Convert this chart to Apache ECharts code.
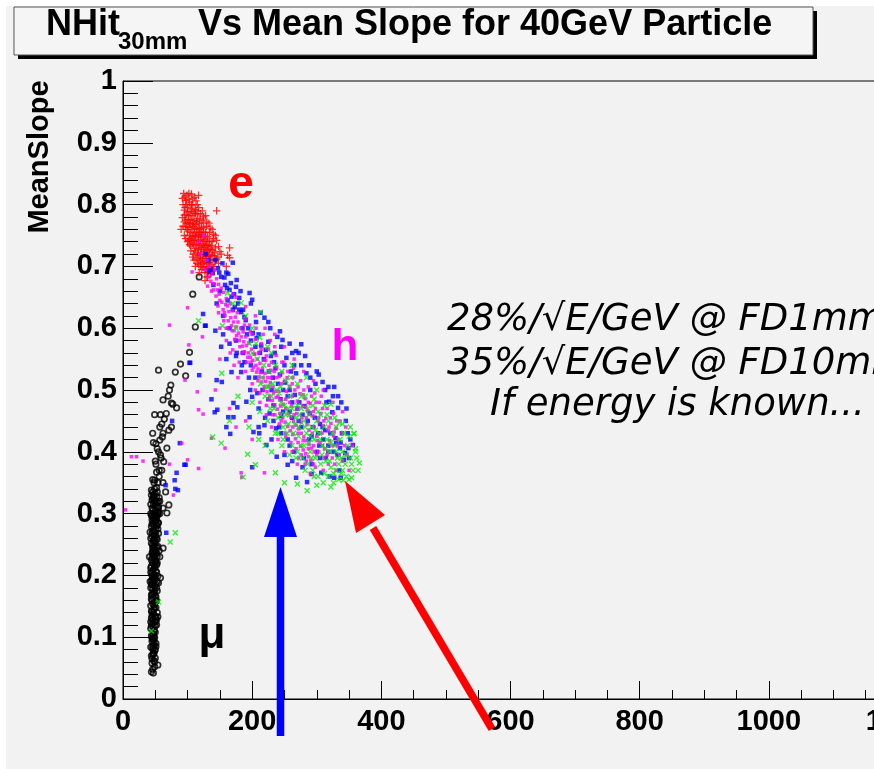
<!DOCTYPE html>
<html><head><meta charset="utf-8">
<script src="https://cdn.jsdelivr.net/npm/echarts@6/dist/echarts.min.js"></script>
<style>html,body{margin:0;padding:0;background:#fff}#c{width:874px;height:769px}</style>
</head><body><div id="c"></div>
<script>
// ---- data (NHit30mm, MeanSlope) ----
const muonData = [
[47,0.042],[46,0.048],[49,0.052],[45,0.058],[48,0.062],[50,0.066],[44,0.07],[47,0.074],[49,0.078],[46,0.081],[43,0.084],[48,0.087],[51,0.09],[45,0.093],[47,0.096],[49,0.099],[44,0.102],[46,0.105],[50,0.108],[48,0.111],[43,0.114],[47,0.117],[52,0.12],[45,0.122],[49,0.125],[46,0.128],[44,0.131],[50,0.134],[47,0.137],[53,0.14],[45,0.142],[48,0.145],[51,0.148],[43,0.151],[46,0.154],[49,0.156],[52,0.159],[44,0.162],[47,0.164],[50,0.167],[45,0.17],[48,0.172],[53,0.175],[46,0.178],[43,0.18],[49,0.183],[51,0.186],[47,0.188],[44,0.191],[50,0.194],[46,0.196],[54,0.199],[48,0.201],[45,0.204],[51,0.207],[47,0.209],[43,0.212],[49,0.215],[52,0.217],[46,0.22],[50,0.223],[44,0.225],[48,0.228],[53,0.231],[47,0.233],[45,0.236],[51,0.239],[49,0.241],[46,0.244],[54,0.247],[48,0.249],[44,0.252],[50,0.255],[47,0.257],[52,0.26],[45,0.263],[49,0.265],[55,0.268],[46,0.271],[48,0.273],[51,0.276],[44,0.279],[53,0.281],[47,0.284],[50,0.287],[45,0.29],[49,0.292],[52,0.295],[46,0.298],[48,0.301],[54,0.303],[50,0.306],[45,0.309],[51,0.312],[47,0.315],[53,0.318],[49,0.321],[46,0.324],[52,0.327],[48,0.33],
[49,0.06],[46,0.072],[51,0.085],[45,0.098],[48,0.11],[52,0.128],[44,0.142],[50,0.158],[47,0.17],[53,0.19],[45,0.2],[49,0.218],[52,0.236],[46,0.25],[50,0.262],[54,0.275],[47,0.288],[51,0.3],[55,0.31],[49,0.318],[45,0.322],[56,0.326],[50,0.332],
[48,0.092],[50,0.118],[45,0.135],[49,0.149],[51,0.165],[44,0.185],[48,0.195],[51,0.222],[47,0.245],[53,0.258],[49,0.27],[45,0.283],[52,0.29],[48,0.296],[51,0.321],[47,0.327],[53,0.335],[44,0.297],[55,0.285],[50,0.248],
[46,0.085],[48,0.1],[44,0.118],[50,0.125],[47,0.14],[45,0.16],[49,0.175],[46,0.192],[52,0.205],[44,0.215],[49,0.23],[46,0.238],[53,0.245],[48,0.258],[45,0.268],[51,0.282],[47,0.293],[54,0.298],[50,0.315],[46,0.335],[52,0.342],[48,0.35],[56,0.36],[51,0.38],[59,0.39],[53,0.405],[47,0.415],[60,0.445],[67,0.462],[70,0.49],[72,0.5],[58,0.46],[54,0.055],[42,0.19],[42,0.27],[57,0.3],[56,0.24],[41,0.23],[43,0.3],[57,0.32],
[45,0.065],[50,0.08],[47,0.105],[43,0.125],[51,0.132],[48,0.152],[44,0.168],[52,0.18],[46,0.185],[50,0.2],[43,0.205],[48,0.212],[53,0.22],[45,0.228],[50,0.232],[47,0.24],[43,0.26],[51,0.266],[48,0.278],[54,0.285],[46,0.305],[50,0.298],[43,0.315],[53,0.31],[48,0.325],[55,0.32],[44,0.33],[49,0.34],[54,0.35],[46,0.355],
[46,0.43],[62,0.43],[71,0.435],[75,0.44],[51,0.413],[57,0.419],[68,0.406],[55,0.4],[63,0.384],[52,0.367],[60,0.37],[49,0.354],[62,0.35],[66,0.335],[44,0.338],[71,0.314],[62,0.309],[55,0.301],[68,0.301],[62,0.244],[57,0.23],[58,0.196],[55,0.188],[54,0.133],[48,0.074],[44,0.044],
[118,0.683],[108,0.655],[112,0.602],[103,0.561],[97,0.523],[89,0.542],[81,0.529],[74,0.508],[55,0.532],[75,0.479],[83,0.471],[49,0.46],[64,0.453],[61,0.424],[62,0.484],[77,0.477],[57,0.44],[58,0.395],[50,0.385],[56,0.37]
];
const electronData = [
[94,0.818],[99,0.815],[106,0.817],[111,0.812],[97,0.807],[103,0.804],[93,0.8],[108,0.799],[100,0.796],[95,0.791],[104,0.789],[112,0.792],[98,0.784],[92,0.779],[107,0.782],[116,0.785],[101,0.776],[110,0.774],[95,0.772],[119,0.777],[104,0.768],[113,0.768],[97,0.764],[122,0.77],[107,0.76],[116,0.762],[100,0.757],[125,0.763],[110,0.754],[119,0.755],[103,0.75],[128,0.755],[113,0.748],[122,0.747],[106,0.743],[131,0.748],[116,0.741],[125,0.74],[109,0.736],[134,0.741],[119,0.734],[128,0.733],[112,0.729],[137,0.733],[122,0.727],[131,0.726],[115,0.722],[139,0.725],[125,0.72],[134,0.719],[118,0.715],[141,0.717],[128,0.713],[136,0.711],[121,0.707],[143,0.71],[131,0.705],[138,0.703],[124,0.699],[134,0.697],[140,0.695],[127,0.69],[136,0.688],[130,0.683],
[96,0.795],[102,0.782],[105,0.776],[108,0.77],[111,0.762],[114,0.756],[117,0.75],[120,0.743],[123,0.737],[126,0.73],[129,0.722],[132,0.716],[135,0.71],[112,0.785],[115,0.777],[118,0.77],[121,0.762],[124,0.756],[127,0.749],[130,0.741],[133,0.734],[136,0.727],[99,0.77],[102,0.763],[105,0.755],[108,0.748],[111,0.742],[114,0.735],[117,0.728],[120,0.72],[123,0.713],[126,0.707],[129,0.699],[132,0.692],[100,0.788],[106,0.793],[113,0.79],[117,0.795],
[98,0.8],[102,0.808],[95,0.783],[110,0.786],[103,0.77],[114,0.773],[99,0.76],[109,0.765],[118,0.76],[104,0.745],[112,0.75],[121,0.752],[108,0.738],[117,0.742],[127,0.744],[111,0.725],[121,0.731],[130,0.735],[116,0.718],[125,0.724],[133,0.728],[120,0.71],[129,0.716],[138,0.718],[124,0.704],[133,0.706],[141,0.7],[128,0.695],[137,0.693],[131,0.69],[97,0.775],[93,0.765],[101,0.742],[105,0.733],[109,0.72],[113,0.712],[117,0.703],[122,0.695],[106,0.8],[115,0.8],[120,0.785],[124,0.775],[129,0.765],[134,0.755],[138,0.74],[142,0.722],[145,0.712],[96,0.812],[102,0.818],[113,0.806],[108,0.81],
[100,0.74],[95,0.75],[105,0.725],[110,0.71],[125,0.78],[130,0.772],[135,0.762],[140,0.752],[145,0.742],[148,0.732],[150,0.724],[115,0.705],[120,0.7],[97,0.745],[103,0.735],[108,0.715],[112,0.7],[123,0.79],[128,0.782],[133,0.77],[138,0.76],[143,0.75],[147,0.715],
[117,0.815],[145,0.79],[165,0.73],[162,0.718],[165,0.714],[131,0.683],[148,0.705],[152,0.72],[127,0.677],[118,0.69],[90,0.76],[92,0.81],[140,0.745],[143,0.73],[160,0.7]
];
const blueData = [
[136,0.696],[139,0.689],[154,0.705],[170,0.706],[152,0.683],[165,0.662],[175,0.667],[168,0.651],[180,0.649],[196,0.657],[200,0.646],[124,0.623],[128,0.604],[143,0.596],[118,0.524],[103,0.544],[152,0.57],[160,0.55],[168,0.529],[183,0.529],[145,0.516],[153,0.513],[137,0.485],[146,0.468],[142,0.464],[163,0.456],[160,0.44],[166,0.429],[171,0.456],[177,0.472],[196,0.456],[202,0.432],[211,0.43],[200,0.375],[225,0.578],[245,0.57],[225,0.61],[219,0.617],[276,0.574],[282,0.555],[268,0.563],[265,0.54],[284,0.527],[298,0.51],[309,0.513],[327,0.505],[319,0.481],[333,0.471],[324,0.464],[309,0.44],[339,0.43],[348,0.43],[330,0.414],[336,0.406],[349,0.406],[356,0.411],[342,0.387],[337,0.358],[327,0.358],[307,0.366],[292,0.364],[285,0.351],[268,0.358],[255,0.379],[238,0.392],[222,0.411],[210,0.44],[219,0.443],[237,0.438],[227,0.462],[245,0.458],[200,0.489],[208,0.495],[191,0.481],[171,0.479],[268,0.527],[253,0.552],[234,0.545],[239,0.586],[247,0.581],[206,0.61],[190,0.613],[183,0.626],[173,0.634],[176,0.678],[163,0.688],[147,0.697],[88,0.414],[97,0.379],[83,0.366],[80,0.354],[76,0.45],[66,0.346],[85,0.338],[95,0.379],[81,0.34],[67,0.269],[134,0.691],[127,0.604],[104,0.544],
[150,0.66],[158,0.67],[162,0.645],[170,0.63],[178,0.64],[185,0.6],[192,0.59],[198,0.58],[205,0.57],[212,0.56],[218,0.55],[226,0.53],[232,0.52],[240,0.51],[248,0.5],[255,0.49],[262,0.48],[270,0.47],[278,0.46],[286,0.45],[294,0.44],[302,0.43],[310,0.42],[318,0.41],[326,0.4],[230,0.5],[244,0.485],[258,0.465],[272,0.45],[288,0.42],[300,0.4],[314,0.39],[215,0.53],[198,0.54],[186,0.56],[175,0.58],[165,0.6],[155,0.62],[145,0.64],[140,0.67],[132,0.71],[128,0.72],[160,0.69],[186,0.63],[210,0.59],[235,0.56],[260,0.53],[290,0.5],[315,0.48],[345,0.45],[350,0.39],[335,0.37],[320,0.36],[255,0.42],[242,0.44],[280,0.39],[265,0.4],
[143,0.71],[149,0.69],[157,0.682],[161,0.665],[167,0.673],[172,0.655],[180,0.63],[188,0.618],[194,0.6],[201,0.592],[207,0.584],[214,0.572],[221,0.565],[229,0.555],[236,0.535],[243,0.525],[251,0.512],[258,0.5],[266,0.492],[273,0.48],[281,0.474],[289,0.462],[297,0.455],[305,0.445],[313,0.435],[321,0.43],[329,0.422],[337,0.415],[344,0.398],[352,0.42],[216,0.5],[225,0.485],[233,0.475],[248,0.465],[262,0.455],[276,0.44],[292,0.425],[304,0.41],[318,0.4],[332,0.395],[195,0.52],[184,0.54],[175,0.555],[205,0.52],[250,0.54],[262,0.56],[276,0.54],[290,0.52],[300,0.53],[313,0.5],[325,0.49],[338,0.48],[305,0.39],[292,0.38],[278,0.375],[262,0.385],[250,0.395],[230,0.42],
[182,0.66],[198,0.64],[213,0.625],[228,0.6],[243,0.595],[258,0.575],[272,0.56],[288,0.54],[303,0.525],[318,0.505],[333,0.49],[346,0.47],[155,0.59],[165,0.575],[176,0.56],[188,0.545],[197,0.5],[210,0.47],[220,0.455],[233,0.45],[245,0.43],[258,0.41]
];
const magentaData = [
[130,0.71],[134,0.70],[127,0.695],[138,0.688],[142,0.694],[136,0.676],[145,0.68],[131,0.668],[148,0.671],[140,0.662],[152,0.665],[144,0.652],[156,0.658],[150,0.645],[160,0.648],[147,0.636],[162,0.636],[155,0.63],[166,0.64],[158,0.62],[170,0.628],[163,0.612],[174,0.618],[168,0.604],[178,0.61],[172,0.596],[182,0.6],[176,0.588],[186,0.594],[180,0.58],
[190,0.586],[185,0.571],[195,0.576],[188,0.562],[199,0.566],[193,0.553],[204,0.558],[198,0.545],[208,0.55],[202,0.537],[212,0.543],[207,0.529],[216,0.535],[211,0.521],[220,0.527],[215,0.513],[224,0.52],[219,0.505],[228,0.512],[223,0.497],[232,0.505],[227,0.49],[236,0.498],[231,0.483],[240,0.49],[235,0.476],[244,0.484],[239,0.469],[248,0.477],[243,0.462],
[210,0.56],[218,0.548],[226,0.54],[234,0.53],[242,0.522],[250,0.514],[258,0.506],[222,0.555],[230,0.545],[238,0.537],[246,0.528],[254,0.52],[262,0.51],[214,0.575],[225,0.566],[237,0.556],[249,0.545],[200,0.59],[206,0.6],[196,0.605],[190,0.615],
[252,0.47],[247,0.455],[256,0.462],[251,0.448],[260,0.456],[255,0.441],[264,0.449],[259,0.434],[268,0.443],[263,0.428],[272,0.437],[267,0.421],[276,0.43],[271,0.415],[280,0.424],[275,0.409],[284,0.418],[279,0.403],[288,0.412],[283,0.397],[292,0.406],[287,0.392],[296,0.4],[291,0.386],[300,0.395],[295,0.38],
[262,0.49],[270,0.482],[278,0.474],[286,0.466],[294,0.458],[302,0.45],[310,0.442],[318,0.434],[326,0.426],[266,0.5],[274,0.494],[282,0.486],[290,0.478],[298,0.47],[306,0.462],[314,0.454],[322,0.446],[330,0.438],[270,0.47],[284,0.455],[296,0.44],[308,0.43],[320,0.418],[332,0.41],[305,0.415],[312,0.405],[316,0.395],[324,0.39],[335,0.395],[340,0.385],[300,0.425],[288,0.435],[276,0.448],[265,0.46],[258,0.48],[280,0.5],[292,0.49],[304,0.48],[316,0.47],[326,0.462],[336,0.45],
[133,0.683],[141,0.672],[137,0.66],[149,0.655],[146,0.662],[153,0.642],[159,0.638],[157,0.625],[164,0.627],[167,0.617],[171,0.61],[169,0.596],[175,0.602],[179,0.592],[183,0.586],[181,0.57],[187,0.578],[191,0.572],[194,0.56],[197,0.553],[201,0.548],[203,0.558],[206,0.54],[209,0.534],[213,0.528],[217,0.52],[221,0.514],[226,0.506],[229,0.52],[233,0.495],[237,0.488],[241,0.498],[244,0.474],[148,0.625],[156,0.612],[162,0.6],[173,0.582],[184,0.56],[192,0.545],[200,0.532],[209,0.515],[218,0.5],[226,0.485],[170,0.655],[177,0.625],[188,0.605],[197,0.595],[205,0.582],[214,0.566],[221,0.548],[229,0.532],[238,0.52],[245,0.51],[253,0.498],[255,0.53],[263,0.52],[271,0.505],[279,0.492],[287,0.48],[295,0.465],[303,0.455],[311,0.45],[319,0.44],[327,0.432],[252,0.485],[261,0.474],[269,0.462],[277,0.455],[285,0.444],[293,0.43],[301,0.418],[309,0.41],[317,0.4],[325,0.41],[333,0.42],[339,0.43],[263,0.44],[271,0.43],[279,0.418],[287,0.405],[295,0.41],[303,0.4],[311,0.39],[283,0.472],[299,0.48],[309,0.47],[275,0.515],[287,0.505],[297,0.495],[307,0.49],[321,0.455],[331,0.45],[343,0.41],[347,0.395],[264,0.535],[246,0.545],[235,0.57],[228,0.58],[217,0.59],[245,0.45],[235,0.46],[252,0.43],[260,0.415],[268,0.405],[276,0.395],[284,0.385],[298,0.375],[318,0.38],[328,0.38],
[175,0.65],[190,0.635],[205,0.62],[220,0.6],[235,0.59],[250,0.57],[265,0.55],[280,0.53],[295,0.515],[310,0.5],[325,0.48],[340,0.465],[150,0.6],[160,0.58],[170,0.565],[180,0.545],[190,0.53],[200,0.51],[212,0.495],[222,0.475],[232,0.46],[242,0.445],[252,0.425],[262,0.4],[272,0.39],[282,0.38],
[13,0.392],[21,0.392],[31,0.385],[4,0.306],[72,0.605],[100,0.633],[102,0.573],[96,0.516],[115,0.497],[117,0.468],[124,0.461],[137,0.422],[158,0.406],[100,0.387],[117,0.373],[78,0.33],[72,0.38],[91,0.414],[183,0.366],[219,0.366],[184,0.359],[107,0.691],[123,0.586],[143,0.5],[165,0.47],[175,0.44],[190,0.45],[200,0.42],[150,0.55],[160,0.6],[120,0.72],[118,0.74],[125,0.75],[350,0.37],[355,0.41],[345,0.44],[330,0.37],[310,0.37],[290,0.365],[270,0.38],[250,0.4],[240,0.42],[230,0.44],[222,0.46],[212,0.48],[205,0.5],[172,0.54],[166,0.56],[178,0.52]
];
const greenData = [
[215,0.52],[222,0.505],[230,0.49],[238,0.5],[245,0.48],[252,0.46],[258,0.49],[262,0.47],[268,0.455],[272,0.44],[276,0.47],[280,0.45],[284,0.43],[288,0.46],[292,0.44],[296,0.42],[300,0.45],[304,0.43],[308,0.41],[312,0.44],[316,0.42],[320,0.4],[324,0.43],[328,0.41],[332,0.39],[336,0.42],[340,0.4],[344,0.38],[348,0.41],[352,0.39],[356,0.37],[360,0.4],[254,0.43],[262,0.41],[270,0.4],[278,0.39],[286,0.38],[294,0.37],[302,0.36],[310,0.35],[318,0.36],[326,0.365],[334,0.355],[290,0.4],[298,0.39],[306,0.38],[314,0.385],[322,0.375],[330,0.37],[338,0.365],[346,0.36],[240,0.455],[248,0.44],[256,0.445],[264,0.43],[272,0.425],[280,0.41],[288,0.415],[234,0.47],[244,0.505],[252,0.515],[226,0.53],[236,0.54],[246,0.53],[260,0.52],[270,0.51],[282,0.49],[294,0.475],[306,0.46],[318,0.45],[330,0.44],[342,0.43],[350,0.425],[358,0.43],[366,0.382],[360,0.405],[357,0.429],[335,0.447],[322,0.477],[208,0.55],[200,0.56],[196,0.575],[212,0.585],[224,0.57],
[242,0.495],[250,0.475],[258,0.46],[266,0.445],[274,0.46],[282,0.44],[290,0.425],[298,0.435],[306,0.42],[314,0.405],[322,0.415],[330,0.4],[338,0.39],[346,0.395],[354,0.38],[362,0.39],[270,0.475],[286,0.47],[302,0.465],[316,0.46],[328,0.455],[340,0.445],[352,0.44],[232,0.51],[258,0.505],[276,0.49],[296,0.485],[312,0.475],[268,0.39],[282,0.37],[296,0.36],[312,0.365],[326,0.35],[340,0.37],[350,0.355],[364,0.37],[276,0.41],[292,0.39],[308,0.395],[320,0.385],[334,0.38],[244,0.46],[256,0.47],[248,0.42],[240,0.43],[218,0.54],[230,0.56],[206,0.575],[220,0.49],[228,0.47],[262,0.54],[284,0.52],[300,0.5],
[200,0.48],[212,0.465],[224,0.45],[236,0.43],[246,0.41],[258,0.395],[225,0.505],[213,0.51],
[117,0.612],[154,0.604],[213,0.626],[153,0.527],[139,0.424],[152,0.414],[193,0.396],[186,0.359],[205,0.379],[236,0.366],[250,0.35],[270,0.348],[285,0.337],[300,0.346],[322,0.343],[341,0.354],[354,0.358],[81,0.269],[73,0.254],[55,0.157],[44,0.11],[183,0.641],[162,0.657],[170,0.64],[190,0.62],[200,0.6],[175,0.6],[178,0.49],[165,0.45],[210,0.42],[220,0.41],[195,0.44],[230,0.4]
];

const xMin = 0, xMax = 1200, xStep = 200;
const yMin = 0, yMax = 1, yStep = 0.1;

const BF = '"Liberation Sans", Arial, sans-serif';
const chart = echarts.init(document.getElementById('c'), null, {renderer: 'canvas'});

function txt(x, y, text, font, fill, align, extra) {
  return Object.assign({
    type: 'text', x: x, y: y, z: 200, silent: true,
    style: {text: text, font: font, fill: fill, align: align || 'left', textAlign: align || 'left',
            verticalAlign: 'middle', textVerticalAlign: 'middle'}
  }, extra || {});
}

const option = {
  animation: false,
  backgroundColor: '#f2f2f2',
  grid: {left: 123, top: 81, width: 775, height: 618, show: true, borderColor: '#000', borderWidth: 1,
         backgroundColor: 'transparent', outerBoundsMode: 'none', containLabel: false},
  xAxis: {
    type: 'value', min: xMin, max: xMax, interval: xStep,
    axisLine: {lineStyle: {color: '#000', width: 1}},
    axisTick: {inside: true, length: 18, lineStyle: {color: '#000'}},
    minorTick: {show: true, splitNumber: 4, length: 9, lineStyle: {color: '#000'}},
    splitLine: {show: false}, minorSplitLine: {show: false},
    axisLabel: {color: '#000', fontFamily: BF, fontWeight: 'bold', fontSize: 29, margin: 8,
                formatter: function (v) { return String(v); }}
  },
  yAxis: {
    type: 'value', min: yMin, max: yMax, interval: yStep,
    axisLine: {lineStyle: {color: '#000', width: 1}},
    axisTick: {inside: true, length: 30, lineStyle: {color: '#000'}},
    minorTick: {show: true, splitNumber: 5, length: 15, lineStyle: {color: '#000'}},
    splitLine: {show: false}, minorSplitLine: {show: false},
    axisLabel: {color: '#000', fontFamily: BF, fontWeight: 'bold', fontSize: 29, margin: 6,
                formatter: function (v) { return String(Math.round(v * 10) / 10); }}
  },
  series: [
    {type: 'scatter', data: muonData, symbol: 'circle', symbolSize: 5.5, silent: true, large: false,
     itemStyle: {color: 'rgba(0,0,0,0)', borderColor: '#000', borderWidth: 1.7}},
    {type: 'scatter', data: electronData, symbol: 'path://M0,4L8,4M4,0L4,8', symbolSize: 7.5, silent: true, large: false,
     itemStyle: {color: 'rgba(0,0,0,0)', borderColor: '#ff0000', borderWidth: 1.3}},
    {type: 'scatter', data: blueData, symbol: 'rect', symbolSize: 4.5, silent: true, large: false,
     itemStyle: {color: '#0000ff'}},
    {type: 'scatter', data: magentaData, symbol: 'rect', symbolSize: 3.5, silent: true, large: false,
     itemStyle: {color: '#ff00ff'}},
    {type: 'scatter', data: greenData, symbol: 'path://M0,0L6,6M6,0L0,6', symbolSize: 5, silent: true, large: false,
     itemStyle: {color: 'rgba(0,0,0,0)', borderColor: '#00ee00', borderWidth: 1.3}}
  ],
  graphic: [
    {type: 'rect', z: 150, silent: true, shape: {x: 0, y: 0, width: 874, height: 6}, style: {fill: '#fff'}},
    {type: 'rect', z: 150, silent: true, shape: {x: 0, y: 0, width: 6, height: 769}, style: {fill: '#fff'}},
    {type: 'rect', z: 150, silent: true, shape: {x: 18, y: 11, width: 799, height: 48}, style: {fill: '#000'}},
    {type: 'rect', z: 151, silent: true, shape: {x: 14, y: 7, width: 799, height: 48}, style: {fill: '#f5f5f5', stroke: '#555', lineWidth: 1}},
    txt(46, 25, 'NHit', 'bold 36px ' + BF, '#000'),
    txt(118, 42, '30mm', 'bold 24px ' + BF, '#000'),
    txt(198, 25, 'Vs Mean Slope for 40GeV Particle', 'bold 36px ' + BF, '#000'),
    txt(40, 157, 'MeanSlope', 'bold 29px ' + BF, '#000', 'center', {rotation: Math.PI / 2}),
    txt(241, 185, 'e', 'bold 46px ' + BF, '#ff0000', 'center'),
    txt(345, 348, 'h', 'bold 44px ' + BF, '#ff00ff', 'center'),
    txt(212, 636, 'μ', 'bold 44px ' + BF, '#000', 'center'),
    txt(447, 320, '28%/√E/GeV @ FD1mm', 'italic 37px "DejaVu Sans"', '#000'),
    txt(447, 364, '35%/√E/GeV @ FD10mm', 'italic 37px "DejaVu Sans"', '#000'),
    txt(490, 405, 'If energy is known...', 'italic 37px "DejaVu Sans"', '#000'),
    {type: 'line', z: 200, silent: true, shape: {x1: 280.5, y1: 736, x2: 280.5, y2: 530}, style: {stroke: '#0000ff', lineWidth: 7.5}},
    {type: 'polygon', z: 200, silent: true, shape: {points: [[264, 537], [297, 537], [280.5, 487]]}, style: {fill: '#0000ff'}},
    {type: 'line', z: 200, silent: true, shape: {x1: 492, y1: 729, x2: 373, y2: 528}, style: {stroke: '#ff0000', lineWidth: 7.5}},
    {type: 'polygon', z: 200, silent: true, shape: {points: [[345, 481], [385, 515], [356, 533]]}, style: {fill: '#ff0000'}}
  ]
};
chart.setOption(option);
</script></body></html>
